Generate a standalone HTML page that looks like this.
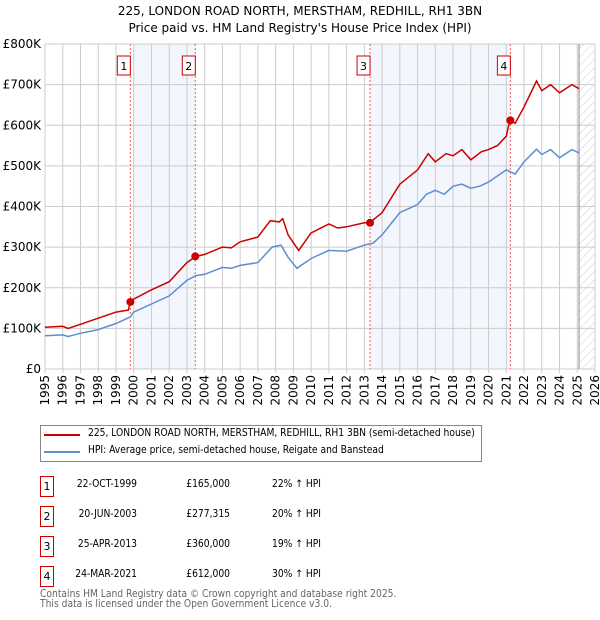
<!DOCTYPE html>
<html><head><meta charset="utf-8"><style>
body{margin:0;width:600px;height:620px;background:#fff;font-family:"DejaVu Sans","Liberation Sans",sans-serif;overflow:hidden;position:relative}
.t{position:absolute;color:#000;font-size:11px;white-space:nowrap}
.c{font-family:"DejaVu Sans Condensed","DejaVu Sans",sans-serif;font-stretch:condensed}
.box{position:absolute;width:12px;height:19px;border:1px solid #c00;font-size:11px;text-align:center;line-height:19px}
</style></head><body>
<div class="t" style="left:0;width:600px;text-align:center;top:4px;font-size:12px">225, LONDON ROAD NORTH, MERSTHAM, REDHILL, RH1 3BN</div>
<div class="t" style="left:0;width:600px;text-align:center;top:21px;font-size:12px">Price paid vs. HM Land Registry's House Price Index (HPI)</div>
<svg id="chart" width="600" height="420" style="position:absolute;left:0;top:0" font-family="DejaVu Sans, Liberation Sans, sans-serif" font-size="12"></svg>
<div style="position:absolute;left:40px;top:425px;width:440px;height:35px;border:1px solid #888">
<div style="position:absolute;left:3px;top:8px;width:36px;height:2px;background:#c00"></div>
<div class="t c" style="left:47px;top:2px;font-size:10.2px">225, LONDON ROAD NORTH, MERSTHAM, REDHILL, RH1 3BN (semi-detached house)</div>
<div style="position:absolute;left:3px;top:25px;width:36px;height:2px;background:#5b8fd0"></div>
<div class="t c" style="left:47px;top:19px;font-size:10.2px">HPI: Average price, semi-detached house, Reigate and Banstead</div>
</div>
<div id="tbl"></div>
<div class="t c" style="left:40px;top:590px;color:#666;font-size:10.2px;line-height:10px">Contains HM Land Registry data © Crown copyright and database right 2025.<br>This data is licensed under the Open Government Licence v3.0.</div>
<script>
const hpiYears=[1995,1996,1996.3,1997,1998,1999,1999.8,2000,2001,2002,2003,2003.5,2004,2005,2005.5,2006,2007,2007.8,2008.3,2008.7,2009.2,2010,2011,2012,2013,2013.5,2014,2015,2016,2016.5,2017,2017.5,2018,2018.5,2019,2019.5,2020,2020.5,2021,2021.5,2022,2022.7,2023,2023.5,2024,2024.7,2025.1];
const hpiValues=[82,84,80,88,97,112,128,140,160,180,218,230,233,250,248,255,262,300,305,275,248,272,292,290,305,310,330,385,405,430,440,430,450,455,445,450,460,475,490,480,510,541,528,540,520,540,532];
const propYears=[1995,1996,1996.3,1997,1998,1999,1999.7,1999.8,2000,2001,2002,2003,2003.5,2004,2005,2005.5,2006,2007,2007.7,2008.2,2008.4,2008.7,2009.3,2010,2011,2011.5,2012,2013,2013.3,2014,2015,2016,2016.6,2017,2017.6,2018,2018.5,2019,2019.6,2020,2020.5,2021,2021.2,2021.5,2022,2022.7,2023,2023.5,2024,2024.7,2025.1];
const propValues=[103,105,100,110,125,140,145,165,172,195,215,262,277,282,300,298,313,325,365,362,370,330,292,335,357,347,350,360,360,385,455,490,530,510,530,525,540,515,535,540,550,573,612,605,645,709,685,700,680,700,690];
const saleYears=[1999.81,2003.47,2013.32,2021.23];
const saleValues=[165,277.315,360,612];
const saleLabels=["1","2","3","4"];
const saleDates=["22-OCT-1999","20-JUN-2003","25-APR-2013","24-MAR-2021"];
const salePrices=["£165,000","£277,315","£360,000","£612,000"];
const saleHpi=["22% ↑ HPI","20% ↑ HPI","19% ↑ HPI","30% ↑ HPI"];
const yTicks=[0,100,200,300,400,500,600,700,800];
const yTickLabels=["£0","£100K","£200K","£300K","£400K","£500K","£600K","£700K","£800K"];
const xTicks=[1995,1996,1997,1998,1999,2000,2001,2002,2003,2004,2005,2006,2007,2008,2009,2010,2011,2012,2013,2014,2015,2016,2017,2018,2019,2020,2021,2022,2023,2024,2025,2026];
const X0=45,X1=595,Y0=369,Y1=44;
const x=v=>X0+(v-1995)*(X1-X0)/31;
const y=v=>Y0-v*(Y0-Y1)/800;
const svg=document.getElementById('chart');
const NS='http://www.w3.org/2000/svg';
function mk(t,a,p){const e=document.createElementNS(NS,t);for(const k in a)e.setAttribute(k,a[k]);(p||svg).appendChild(e);return e;}
const defs=mk('defs',{});
const pat=mk('pattern',{id:'hatch',width:6,height:6,patternUnits:'userSpaceOnUse',patternTransform:'rotate(45)'},defs);
mk('line',{x1:0,y1:0,x2:0,y2:6,stroke:'#ccc','stroke-width':1},pat);
let s=mk('rect',{x:x(2000),y:Y1,width:x(2003.47)-x(2000),height:Y0-Y1,fill:'#f3f6fd'});

s=mk('rect',{x:x(2013.32),y:Y1,width:x(2021.23)-x(2013.32),height:Y0-Y1,fill:'#f3f6fd'});

s=mk('rect',{x:x(2025.1),y:Y1,width:X1-x(2025.1),height:Y0-Y1,fill:'url(#hatch)'});

yTicks.forEach((v,i)=>{
 const l=mk('line',{x1:X0,x2:X1,y1:y(v),y2:y(v),stroke:'#ccc'});
 
 const t=mk('text',{x:X0-4,y:y(v)+4,'text-anchor':'end'});t.textContent=yTickLabels[i];
 
});
xTicks.forEach(v=>{
 const l=mk('line',{x1:x(v),x2:x(v),y1:Y1,y2:Y0+4,stroke:'#ccc'});
 
 const t=mk('text',{x:0,y:0,'text-anchor':'end',transform:`translate(${x(v)+4},${Y0+6}) rotate(-90)`});t.textContent=v;
 
});
const nl=mk('line',{x1:x(2025.1),x2:x(2025.1),y1:Y1,y2:Y0,stroke:'#888'});

saleYears.forEach((v,i)=>{
 const l=mk('line',{x1:x(v),x2:x(v),y1:Y1,y2:Y0,stroke:'#f55','stroke-dasharray':'2,2'});
 
 const r=mk('rect',{x:x(v)-13,y:56,width:13,height:19,fill:'#fff',stroke:'#c00'});
 
 const t=mk('text',{x:x(v)-6.5,y:70,'text-anchor':'middle','font-size':11});t.textContent=saleLabels[i];
 
});
const hp=mk('path',{d:hpiYears.map((v,i)=>(i?'L':'M')+x(v).toFixed(1)+','+y(hpiValues[i]).toFixed(1)).join(''),fill:'none',stroke:'#5b8fd0','stroke-width':1.5});

const pp=mk('path',{d:propYears.map((v,i)=>(i?'L':'M')+x(v).toFixed(1)+','+y(propValues[i]).toFixed(1)).join(''),fill:'none',stroke:'#c00','stroke-width':1.5});

saleYears.forEach((v,i)=>{
 const c=mk('circle',{cx:x(v),cy:y(saleValues[i]),r:4,fill:'#c00'});
 
});
const tbl=document.getElementById('tbl');
saleLabels.forEach((lab,i)=>{
 const top=476+i*30;
 const b=document.createElement('div');b.className='box';b.style.left='40px';b.style.top=top+'px';b.textContent=lab;
 tbl.appendChild(b);
 [[ 'table-date',137,saleDates[i],'right'],['table-price',230,salePrices[i],'right'],['table-hpi',272,saleHpi[i],'left']].forEach(c=>{
  const d=document.createElement('div');d.className='t c';d.style.top=(top+3)+'px';d.style.fontSize='10.2px';
  if(c[3]==='right'){d.style.right=(600-c[1])+'px';}else{d.style.left=c[1]+'px';}
  d.textContent=c[2];
  
  
  tbl.appendChild(d);
 });
});
</script>
</body></html>
